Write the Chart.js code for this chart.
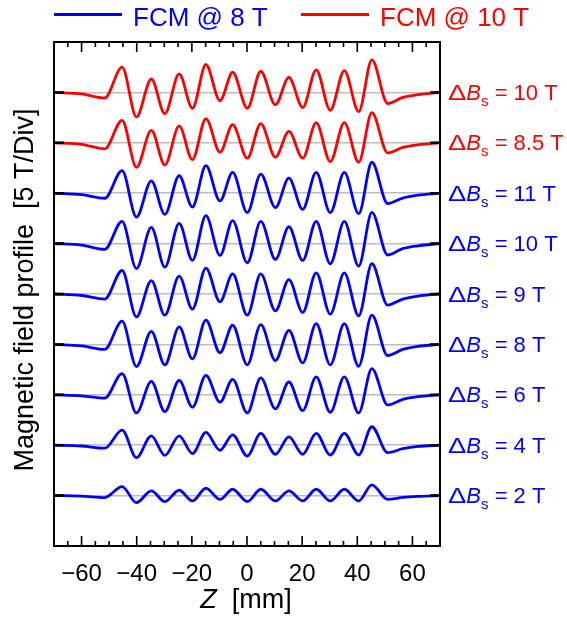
<!DOCTYPE html>
<html><head><meta charset="utf-8">
<script src="https://cdn.jsdelivr.net/npm/chart.js@4/dist/chart.umd.min.js"></script>
<style>html,body{margin:0;padding:0;background:#fff}#wrap{width:567px;height:618px}</style>
</head><body><div id="wrap"><canvas id="c" width="567" height="618"></canvas></div>
<script>
// Axial positions (mm) of the read-off points: edges, peaks and troughs
const Z = [-70, -60, -51.6, -45.3, -40.1, -34.7, -29.8, -24.6, -19.8, -14.9, -9.8, -5.2, 0.1, 5.0, 10.3, 15.2, 20.2, 25.1, 30.2, 35.3, 40.5, 45.3, 51.0, 56.5, 62, 70];
// Field profiles (T), relative to each trace's own baseline
const fcm10_dB10  = [0,-0.15,-0.55, 2.5,-2.43,1.33,-2.1,1.83,-1.57,2.77,-0.83,2.0,-1.57,2.1,-1.23,1.5,-1.5,2.23,-1.77,2.17,-1.9,3.23,-1.1,-0.5,-0.22,0];
const fcm10_dB8_5 = [0,-0.15,-0.6, 2.23,-2.43,1.23,-2.2,1.67,-1.67,2.4,-0.93,1.8,-1.53,1.9,-1.43,1.13,-1.53,2.0,-1.87,2.0,-1.93,3.0,-1.0,-0.45,-0.2,0];
const fcm8_dB11   = [0,-0.15,-0.5, 2.23,-2.37,1.23,-2.1,1.73,-1.37,2.73,-0.77,2.07,-1.93,1.9,-1.43,1.5,-1.6,2.07,-1.93,2.07,-2.03,3.07,-1.03,-0.48,-0.2,0];
const fcm8_dB10   = [0,-0.15,-0.57,2.2,-2.47,1.6,-2.33,2.0,-1.67,2.77,-1.17,2.27,-1.9,2.2,-1.57,1.67,-1.67,2.2,-2.0,2.2,-2.23,3.1,-1.13,-0.5,-0.22,0];
const fcm8_dB9    = [0,-0.15,-0.5, 2.33,-2.27,1.33,-2.1,1.77,-1.5,2.57,-0.77,2.0,-2.1,2.0,-1.67,1.43,-1.83,2.1,-2.0,2.1,-2.17,3.0,-1.1,-0.5,-0.2,0];
const fcm8_dB8    = [0,-0.15,-0.5, 2.3,-2.2,1.3,-2.03,1.73,-1.43,2.4,-0.83,1.9,-2.03,1.97,-1.6,1.4,-1.83,2.07,-2.03,2.07,-2.17,2.9,-1.1,-0.5,-0.2,0];
const fcm8_dB6    = [0,-0.1,-0.33, 2.1,-1.8,1.33,-1.67,1.43,-1.23,1.93,-0.73,1.53,-1.8,1.67,-1.4,1.27,-1.57,1.77,-1.73,1.77,-1.8,2.6,-1.0,-0.45,-0.18,0];
const fcm8_dB4    = [0,-0.08,-0.3, 1.5,-1.23,0.93,-1.0,0.93,-0.83,1.27,-0.5,1.03,-1.07,1.17,-0.9,0.83,-0.9,1.17,-0.97,1.17,-0.97,1.83,-0.73,-0.35,-0.12,0];
const fcm8_dB2    = [0,-0.05,-0.2, 0.9,-0.7,0.47,-0.6,0.53,-0.53,0.73,-0.37,0.63,-0.6,0.63,-0.53,0.47,-0.53,0.63,-0.53,0.63,-0.53,1.07,-0.37,-0.18,-0.07,0];
// Trace labels (ΔBs values), top to bottom
const DB_LABELS = ['10', '8.5', '11', '10', '9', '8', '6', '4', '2'];
const MAGNETS = ['FCM @ 10 T','FCM @ 10 T','FCM @ 8 T','FCM @ 8 T','FCM @ 8 T','FCM @ 8 T','FCM @ 8 T','FCM @ 8 T','FCM @ 8 T'];
const OFFSETS = [40, 35, 30, 25, 20, 15, 10, 5, 0];
const X_TICKS = [-60, -40, -20, 0, 20, 40, 60];
const LEGEND = ['FCM @ 8 T', 'FCM @ 10 T'];

const SERIES = [fcm10_dB10, fcm10_dB8_5, fcm8_dB11, fcm8_dB10, fcm8_dB9, fcm8_dB8, fcm8_dB6, fcm8_dB4, fcm8_dB2];
const RED = '#ff0000', BLUE = '#0000ff';
const colorOf = m => m === 'FCM @ 10 T' ? RED : BLUE;
const FONT = '"Liberation Sans", Arial, sans-serif';

const datasets = SERIES.map((s, i) => ({
  label: MAGNETS[i],
  data: Z.map((z, k) => ({x: z, y: s[k] + OFFSETS[i]})),
  borderColor: colorOf(MAGNETS[i]),
  borderWidth: 2.8,
  pointRadius: 0,
  tension: 0.4,
  cubicInterpolationMode: 'monotone',
  fill: false
}));

const decor = {
  id: 'decor',
  afterDatasetsDraw(chart) {
    const ctx = chart.ctx, a = chart.chartArea, xs = chart.scales.x, ys = chart.scales.y;
    ctx.save();
    // y ticks (inward, left and right)
    ctx.strokeStyle = '#000'; ctx.lineWidth = 2.5;
    OFFSETS.forEach(o => {
      const y = ys.getPixelForValue(o);
      ctx.beginPath(); ctx.moveTo(a.left, y); ctx.lineTo(a.left + 10, y);
      ctx.moveTo(a.right, y); ctx.lineTo(a.right - 10, y); ctx.stroke();
    });
    // x ticks (inward, bottom and top)
    ctx.lineWidth = 1.6;
    for (let v = -65; v <= 65; v += 5) {
      const x = xs.getPixelForValue(v);
      const len = X_TICKS.includes(v) ? 10 : 5;
      ctx.beginPath();
      ctx.moveTo(x, a.bottom); ctx.lineTo(x, a.bottom - len);
      ctx.moveTo(x, a.top); ctx.lineTo(x, a.top + len);
      ctx.stroke();
    }
    // frame
    ctx.lineWidth = 2;
    ctx.strokeRect(a.left, a.top, a.right - a.left, a.bottom - a.top);
    // right labels
    ctx.textBaseline = 'alphabetic';
    OFFSETS.forEach((o, i) => {
      const y = ys.getPixelForValue(o) + 7.5;
      let x = a.right + 8;
      ctx.fillStyle = colorOf(MAGNETS[i]);
      ctx.font = '22px ' + FONT;
      ctx.save(); ctx.translate(x, y); ctx.scale(1.25, 1); ctx.fillText('\u0394', 0, 0); ctx.restore();
      x += ctx.measureText('\u0394').width * 1.25;
      ctx.font = 'italic 22px ' + FONT; ctx.fillText('B', x, y); x += ctx.measureText('B').width;
      ctx.font = '15px ' + FONT; ctx.fillText('s', x, y + 6); x += ctx.measureText('s').width;
      ctx.font = '22px ' + FONT; ctx.fillText(' = ' + DB_LABELS[i] + ' T', x, y);
    });
    // legend
    const legY = 14.5;
    [[LEGEND[0], 54, 122, 133], [LEGEND[1], 301, 369, 380]].forEach(([t, x0, x1, tx]) => {
      ctx.strokeStyle = colorOf(t); ctx.lineWidth = 3;
      ctx.beginPath(); ctx.moveTo(x0, legY); ctx.lineTo(x1, legY); ctx.stroke();
      ctx.fillStyle = colorOf(t); ctx.font = '26px ' + FONT; ctx.textBaseline = 'alphabetic';
      ctx.fillText(t, tx, 25.5);
    });
    // y title
    ctx.fillStyle = '#000';
    ctx.save();
    ctx.translate(33, 290);
    ctx.rotate(-Math.PI / 2);
    ctx.font = '27px ' + FONT; ctx.textAlign = 'center'; ctx.textBaseline = 'alphabetic';
    ctx.fillText('Magnetic field profile  [5 T/Div]', 0, 0);
    ctx.restore();
    // x title
    ctx.font = 'italic 27px ' + FONT; ctx.textBaseline = 'alphabetic';
    const zW = ctx.measureText('Z').width;
    ctx.font = '27px ' + FONT;
    const rW = ctx.measureText('  [mm]').width;
    let tx = 246 - (zW + rW) / 2;
    ctx.font = 'italic 27px ' + FONT; ctx.fillText('Z', tx, 608);
    ctx.font = '27px ' + FONT; ctx.fillText('  [mm]', tx + zW, 608);
    ctx.restore();
  }
};

new Chart(document.getElementById('c'), {
  type: 'line',
  data: { datasets },
  options: {
    responsive: false,
    animation: false,
    events: [],
    layout: { padding: { top: 42, right: 127, left: 0, bottom: 0 } },
    plugins: { legend: { display: false }, tooltip: { enabled: false } },
    scales: {
      x: {
        type: 'linear', min: -70, max: 70,
        afterBuildTicks: s => { s.ticks = X_TICKS.map(v => ({ value: v })); },
        afterFit: s => { s.height = 72; },
        grid: { display: false },
        border: { display: false },
        ticks: {
          color: '#000', font: { family: FONT, size: 24 }, padding: 6, maxRotation: 0,
          callback: v => String(v).replace('-', '\u2212')
        }
      },
      y: {
        type: 'linear', min: -5, max: 45,
        afterBuildTicks: s => { s.ticks = OFFSETS.map(v => ({ value: v })); },
        afterFit: s => { s.width = 54; },
        border: { display: false },
        grid: { color: '#bdbdbd', lineWidth: 1.6, drawTicks: false },
        ticks: { display: false }
      }
    }
  },
  plugins: [decor]
});
</script>
</body></html>
